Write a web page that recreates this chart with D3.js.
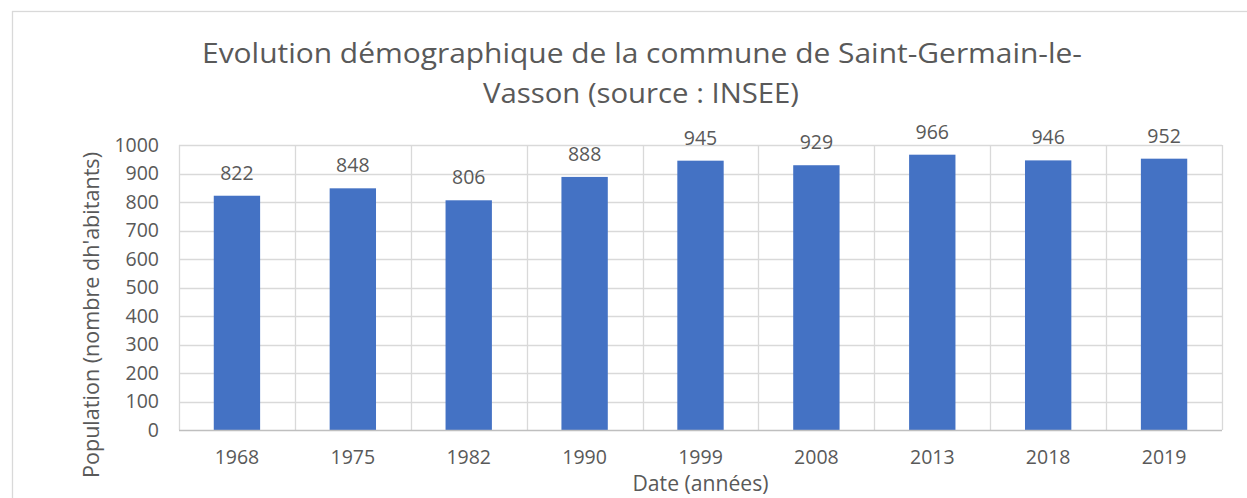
<!DOCTYPE html>
<html>
<head>
<meta charset="utf-8">
<script src="https://cdn.jsdelivr.net/npm/d3@7.9.0/dist/d3.min.js"></script>
<style>
  html, body { margin: 0; padding: 0; background: #fff; }
  svg { display: block; font-family: 'Open Sans', sans-serif; }
</style>
</head>
<body>
<svg id="chart" width="1247" height="498"></svg>
<script>
const years = ['1968', '1975', '1982', '1990', '1999', '2008', '2013', '2018', '2019'];
const population = [822, 848, 806, 888, 945, 929, 966, 946, 952];
const yTicks = [0, 100, 200, 300, 400, 500, 600, 700, 800, 900, 1000];
const titleLines = ['Evolution démographique de la commune de Saint-Germain-le-', 'Vasson (source : INSEE)'];

const svg = d3.select('#chart');
const textColor = '#595959';
const gridColor = '#d9d9d9';

const plot = { left: 179, right: 1222, top: 145, bottom: 430 };

const x = d3.scaleBand()
  .domain(years)
  .range([plot.left, plot.right])
  .paddingInner(0.6)
  .paddingOuter(0.3);

const y = d3.scaleLinear()
  .domain([0, 1000])
  .range([plot.bottom, plot.top]);

// outer chart frame
svg.append('rect')
  .attr('x', 12.5).attr('y', 11.5)
  .attr('width', 1260).attr('height', 520)
  .attr('fill', 'none')
  .attr('stroke', gridColor)
  .attr('stroke-width', 1.3);

// title
svg.append('text')
  .attr('x', 642).attr('y', 63)
  .attr('text-anchor', 'middle')
  .attr('font-size', 28)
  .attr('fill', textColor)
  .attr('textLength', 880)
  .attr('lengthAdjust', 'spacingAndGlyphs')
  .text(titleLines[0]);

svg.append('text')
  .attr('x', 641).attr('y', 103)
  .attr('text-anchor', 'middle')
  .attr('font-size', 28)
  .attr('fill', textColor)
  .attr('textLength', 316)
  .attr('lengthAdjust', 'spacingAndGlyphs')
  .text(titleLines[1]);

// horizontal grid
svg.append('g')
  .selectAll('line')
  .data(yTicks.filter((d) => d > 0))
  .join('line')
  .attr('x1', plot.left).attr('x2', plot.right)
  .attr('y1', (d) => Math.round(y(d)) + 0.5)
  .attr('y2', (d) => Math.round(y(d)) + 0.5)
  .attr('stroke', gridColor)
  .attr('stroke-width', 1.3);

// vertical grid at category boundaries
const step = x.step();
const boundaries = d3.range(years.length + 1).map((i) => plot.left + i * step);
svg.append('g')
  .selectAll('line')
  .data(boundaries)
  .join('line')
  .attr('x1', (d) => Math.round(d) + 0.5).attr('x2', (d) => Math.round(d) + 0.5)
  .attr('y1', plot.top).attr('y2', plot.bottom)
  .attr('stroke', gridColor)
  .attr('stroke-width', 1.3);

// bars
svg.append('g')
  .selectAll('rect')
  .data(years)
  .join('rect')
  .attr('x', (d) => x(d))
  .attr('width', x.bandwidth())
  .attr('y', (d, i) => y(population[i]))
  .attr('height', (d, i) => y(0) - y(population[i]))
  .attr('fill', '#4472c4');

// value labels
svg.append('g')
  .selectAll('text')
  .data(years)
  .join('text')
  .attr('x', (d) => x(d) + x.bandwidth() / 2)
  .attr('y', (d, i) => y(population[i]) - 16)
  .attr('text-anchor', 'middle')
  .attr('font-size', 19.5)
  .attr('fill', textColor)
  .text((d, i) => population[i]);

// x axis line
svg.append('line')
  .attr('x1', plot.left).attr('x2', plot.right)
  .attr('y1', plot.bottom + 0.5).attr('y2', plot.bottom + 0.5)
  .attr('stroke', '#bfbfbf')
  .attr('stroke-width', 1.3);

// y axis (labels only)
const yAxis = svg.append('g')
  .attr('transform', `translate(${plot.left},0)`)
  .call(d3.axisLeft(y).tickValues(yTicks).tickFormat(d3.format('d')).tickSize(0).tickPadding(20));
yAxis.select('.domain').remove();
yAxis.selectAll('text')
  .attr('font-size', 19.5)
  .attr('font-family', "'Open Sans', sans-serif")
  .attr('fill', textColor);

// x axis (labels only)
const xAxis = svg.append('g')
  .attr('transform', `translate(0,${plot.bottom})`)
  .call(d3.axisBottom(x).tickSize(0).tickPadding(20));
xAxis.select('.domain').remove();
xAxis.selectAll('text')
  .attr('font-size', 19.5)
  .attr('font-family', "'Open Sans', sans-serif")
  .attr('fill', textColor);

// axis titles
svg.append('text')
  .attr('x', (plot.left + plot.right) / 2)
  .attr('y', 491)
  .attr('text-anchor', 'middle')
  .attr('font-size', 21)
  .attr('fill', textColor)
  .attr('textLength', 136)
  .attr('lengthAdjust', 'spacingAndGlyphs')
  .text('Date (années)');

svg.append('text')
  .attr('transform', 'translate(99,315) rotate(-90)')
  .attr('text-anchor', 'middle')
  .attr('font-size', 21)
  .attr('fill', textColor)
  .attr('textLength', 326)
  .attr('lengthAdjust', 'spacingAndGlyphs')
  .text("Population (nombre dh'abitants)");
</script>
</body>
</html>
